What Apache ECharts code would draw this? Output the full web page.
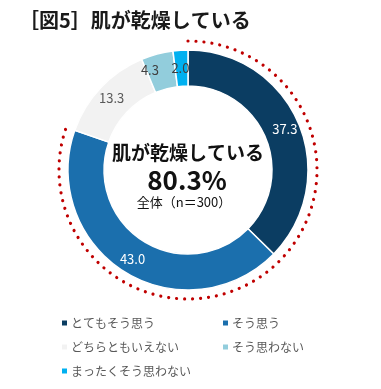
<!DOCTYPE html>
<html><head><meta charset="utf-8">
<script src="https://cdn.jsdelivr.net/npm/echarts@6/dist/echarts.min.js"></script>
<style>html,body{margin:0;padding:0;background:#fff}#c{width:381px;height:389px}</style>
</head><body><div id="c"></div>
<script>
const categories = ['とてもそう思う','そう思う','どちらともいえない','そう思わない','まったくそう思わない'];
const values = [37.3, 43.0, 13.3, 4.3, 2.0];
const colors = ['#0b3d62','#1b6fad','#f2f2f2','#92cddc','#00b0f0'];
const labelColors = ['#ffffff','#ffffff','#595959','#404040','#404040'];
const agreeTotal = [80.3];
const FONT = '"Noto Sans CJK JP", sans-serif';

const chart = echarts.init(document.getElementById('c'));
chart.setOption({
  animation: false,
  backgroundColor: '#fff',
  title: {
    text: '［図5］肌が乾燥している', left: 14, top: 5,
    textStyle: {fontFamily: FONT, fontSize: 20, fontWeight: 'bold', color: '#1a1a1a'}
  },
  legend: [
    {data: [categories[0], categories[2], categories[4]], orient: 'vertical', left: 55, top: 312,
     icon: 'rect', itemWidth: 7, itemHeight: 7, itemGap: 12,
     textStyle: {fontFamily: FONT, fontSize: 12, color: '#595959', padding: [0,0,0,-2]}},
    {data: [categories[1], categories[3]], orient: 'vertical', left: 216, top: 312,
     icon: 'rect', itemWidth: 7, itemHeight: 7, itemGap: 12,
     textStyle: {fontFamily: FONT, fontSize: 12, color: '#595959', padding: [0,0,0,-2]}}
  ],
  polar: {center: [188, 170], radius: 129},
  angleAxis: {type: 'value', min: 0, max: 100, startAngle: 90, show: false},
  radiusAxis: {type: 'value', min: 0, max: 1, show: false},
  series: [
    {
      type: 'pie', center: [188, 170], radius: [84, 120], startAngle: 90, clockwise: true,
      label: {show: true, position: 'inside', fontFamily: FONT, fontSize: 13,
        formatter: p => p.value.toFixed(1)},
      labelLine: {show: false},
      itemStyle: {borderColor: '#fff', borderWidth: 1.5},
      emphasis: {disabled: true},
      data: categories.map((c, i) => ({name: c, value: values[i],
        itemStyle: {color: colors[i]},
        label: i === 3 ? {color: labelColors[i], offset: [-11, 2]} : (i === 4 ? {color: labelColors[i], offset: [-1, 3]} : {color: labelColors[i]})}))
    },
    {
      type: 'custom', coordinateSystem: 'polar', silent: true,
      data: agreeTotal.map(v => [1, v]),
      renderItem: function (params, api) {
        const cs = params.coordSys;
        const start = -Math.PI / 2;
        const end = start + api.value(1) / 100 * 2 * Math.PI;
        return {type: 'arc', shape: {cx: cs.cx, cy: cs.cy, r: cs.r, startAngle: start, endAngle: end, clockwise: true},
          style: {stroke: '#c00000', fill: null, lineWidth: 3.2, lineDash: [0.01, 8], lineCap: 'round'}};
      }
    }
  ],
  graphic: [
    {type: 'text', x: 188, y: 143, style: {text: '肌が乾燥している', fontFamily: FONT, fontSize: 19, fontWeight: 'bold', fill: '#111', align: 'center'}},
    {type: 'text', x: 187, y: 167, style: {text: '80.3%', fontFamily: FONT, fontSize: 26, fontWeight: 'bold', fill: '#111', align: 'center'}},
    {type: 'text', x: 184, y: 196, style: {text: '全体（n＝300）', fontFamily: FONT, fontSize: 13, fill: '#111', align: 'center'}}
  ]
});
</script></body></html>
